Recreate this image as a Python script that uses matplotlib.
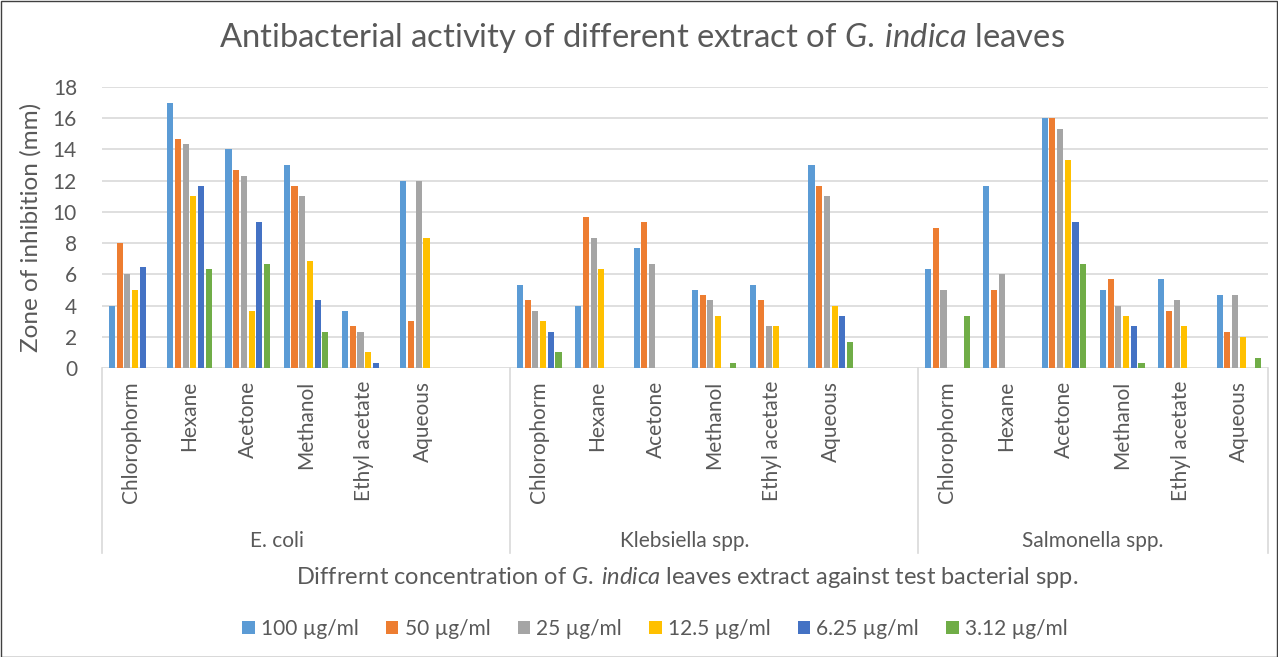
import numpy as np
import matplotlib
matplotlib.use("Agg")
import matplotlib.pyplot as plt
import matplotlib.transforms as mtransforms
from matplotlib.patches import Rectangle

# Data (zone of inhibition, mm)
groups = ["E. coli", "Klebsiella spp.", "Salmonella spp."]
extracts = ["Chlorophorm", "Hexane", "Acetone", "Methanol", "Ethyl acetate", "Aqueous"]
series_names = ["100 µg/ml", "50 µg/ml", "25 µg/ml", "12.5 µg/ml", "6.25 µg/ml", "3.12 µg/ml"]

# each list: E. coli (6 extracts), Klebsiella (6), Salmonella (6)
c100 = [4.0, 17.0, 14.0, 13.0, 3.67, 12.0,
        5.33, 4.0, 7.67, 5.0, 5.33, 13.0,
        6.33, 11.67, 16.0, 5.0, 5.67, 4.67]
c50 = [8.0, 14.67, 12.67, 11.67, 2.67, 3.0,
       4.33, 9.67, 9.33, 4.67, 4.33, 11.67,
       9.0, 5.0, 16.0, 5.67, 3.67, 2.33]
c25 = [6.0, 14.33, 12.33, 11.0, 2.33, 12.0,
       3.67, 8.33, 6.67, 4.33, 2.67, 11.0,
       5.0, 6.0, 15.33, 4.0, 4.33, 4.67]
c12 = [5.0, 11.0, 3.67, 6.83, 1.0, 8.33,
       3.0, 6.33, 0, 3.33, 2.67, 4.0,
       0, 0, 13.33, 3.33, 2.67, 2.0]
c6 = [6.5, 11.67, 9.33, 4.33, 0.33, 0,
      2.33, 0, 0, 0, 0, 3.33,
      0, 0, 9.33, 2.67, 0, 0]
c3 = [0, 6.33, 6.67, 2.33, 0, 0,
      1.0, 0, 0, 0.33, 0, 1.67,
      3.33, 0, 6.67, 0.33, 0, 0.67]
series = [c100, c50, c25, c12, c6, c3]
colors = ["#5B9BD5", "#ED7D31", "#A5A5A5", "#FFC000", "#4472C4", "#70AD47"]

plt.rcParams["font.family"] = ["Lato", "DejaVu Sans"]
plt.rcParams["mathtext.fontset"] = "custom"
plt.rcParams["mathtext.it"] = "Lato:italic"
plt.rcParams["mathtext.rm"] = "Lato"
text_color = "#595959"

W, H = 1278, 657
fig = plt.figure(figsize=(W / 100, H / 100), dpi=100)
ax = fig.add_axes([102 / W, 1 - 368 / H, 1166 / W, (368 - 87) / H])

# slot positions: 6 extracts per group plus one empty slot between groups
x = np.array([g * 7 + i for g in range(len(groups)) for i in range(len(extracts))])
step = 0.132
width = 0.105
for k, (vals, col, name) in enumerate(zip(series, colors, series_names)):
    ax.bar(x + (k - 2.5) * step, vals, width=width, color=col, label=name, zorder=3)

ax.set_xlim(-0.5, 19.5)
ax.set_ylim(0, 18)
ax.set_yticks(range(0, 19, 2))
ax.yaxis.grid(True, color="#D9D9D9", linewidth=1.2, zorder=0)
ax.set_axisbelow(True)
for s in ax.spines.values():
    s.set_visible(False)
ax.tick_params(axis="y", length=0, labelsize=15, labelcolor=text_color, pad=18)
ax.set_xticks([])
ax.set_ylabel("Zone of inhibition (mm)", fontsize=17.5, color=text_color, labelpad=8)

# multi-level category axis below the plot
trans = mtransforms.blended_transform_factory(ax.transData, fig.transFigure)
for xi, name in zip(x, extracts * len(groups)):
    ax.text(xi, 1 - 381 / H, name, transform=trans, rotation=90, ha="center", va="top",
            fontsize=15, color=text_color)
for g, name in enumerate(groups):
    ax.text(g * 7 + 2.5, 1 - 541 / H, name, transform=trans, ha="center", va="center",
            fontsize=15, color=text_color)
for b in [-0.5, 6.5, 13.5, 19.5]:
    ax.plot([b, b], [1 - 368 / H, 1 - 553 / H], transform=trans, color="#D9D9D9",
            linewidth=1.2, clip_on=False)

fig.text(642 / W, 1 - 38 / H,
         r"Antibacterial activity of different extract of $\it{G.\:indica}$ leaves",
         ha="center", va="center", fontsize=23.6, color=text_color)
fig.text(687 / W, 1 - 577 / H,
         r"Diffrernt concentration of $\it{G.\:indica}$ leaves extract against test bacterial spp.",
         ha="center", va="center", fontsize=17, color=text_color)

fig.legend(loc="center", bbox_to_anchor=(655 / W, 1 - 629 / H), ncol=6, frameon=False,
           handlelength=0.6, handleheight=0.6, handletextpad=0.3, columnspacing=1.3,
           fontsize=15, labelcolor=text_color)

fig.add_artist(Rectangle((0.5 / W, 0.5 / H), 1 - 1.5 / W, 1 - 1.5 / H, transform=fig.transFigure,
                         fill=False, edgecolor="#404040", linewidth=1.0))

fig.savefig("out.png", dpi=100, facecolor="white")
